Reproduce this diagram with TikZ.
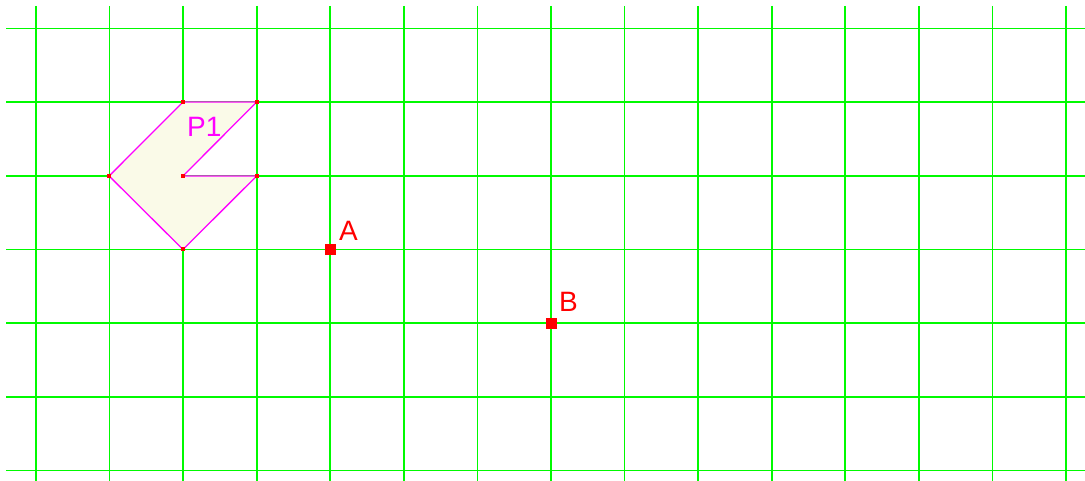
\documentclass[tikz,border=0pt]{standalone}
\usepackage{fontspec}
\setmainfont{Liberation Sans}
\begin{document}
\begin{tikzpicture}[x=1pt,y=-1pt,
  gridline/.style={draw={rgb,255:red,0;green,250;blue,0}, line width=1.8pt},
  poly/.style={draw={rgb,255:red,255;green,0;blue,255}, line width=1.3pt, fill={rgb,255:red,250;green,250;blue,232}},
  vdot/.style={fill=red, inner sep=0pt, minimum size=4pt, rectangle},
  pt/.style={fill=red, inner sep=0pt, minimum size=11pt, rectangle},
  lbl/.style={font=\fontsize{28}{28}\selectfont, text=red, anchor=base west, inner sep=0pt},
  plbl/.style={font=\fontsize{28}{28}\selectfont, text={rgb,255:red,255;green,0;blue,255}, anchor=base west, inner sep=0pt}]
\useasboundingbox (0,0) rectangle (1085,481);
\fill[white] (0,0) rectangle (1085,481);
\foreach \i in {0,...,14} {
  \draw[gridline] ({36+\i*73.57},6) -- ({36+\i*73.57},481);
}
\foreach \j in {0,...,6} {
  \draw[gridline] (6,{28.5+\j*73.67}) -- (1085,{28.5+\j*73.67});
}
\coordinate (v1) at (109.1,176);
\coordinate (v2) at (183,102);
\coordinate (v3) at (256.7,102);
\coordinate (v4) at (183,176);
\coordinate (v5) at (256.7,176);
\coordinate (v6) at (183,249.5);
\draw[poly] (v1) -- (v2) -- (v3) -- (v4) -- (v5) -- (v6) -- cycle;
\foreach \v in {v1,v2,v3,v4,v5,v6} { \node[vdot] at (\v) {}; }
\node[plbl] (p1) at (187,137) {P1};
\node[pt] (A) at (330.3,249.5) {};
\node[lbl] (Alab) at (339,241) {A};
\node[pt] (B) at (551,323) {};
\node[lbl] (Blab) at (559,312) {B};
\end{tikzpicture}
\end{document}
